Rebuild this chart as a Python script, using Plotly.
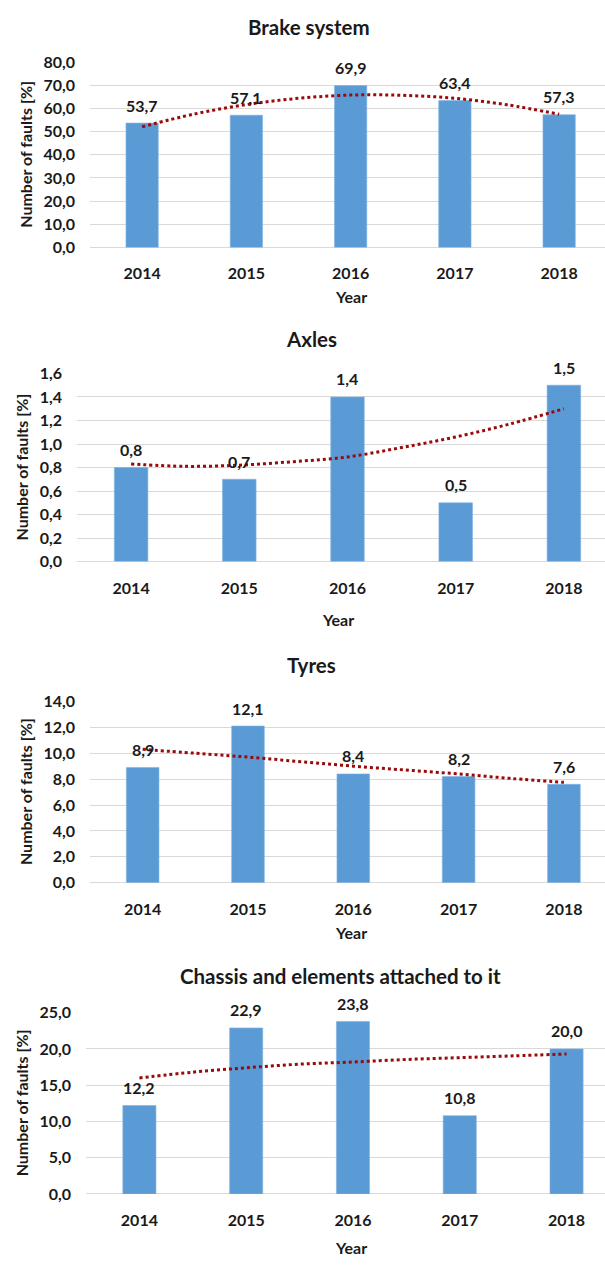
import plotly.graph_objects as go

YEARS = [2014, 2015, 2016, 2017, 2018]
TITLES = ["Brake system", "Axles", "Tyres", "Chassis and elements attached to it"]

BRAKE = [53.7, 57.1, 69.9, 63.4, 57.3]
AXLES = [0.8, 0.7, 1.4, 0.5, 1.5]
TYRES = [8.9, 12.1, 8.4, 8.2, 7.6]
CHASSIS = [12.2, 22.9, 23.8, 10.8, 20.0]

# trend lines (at each year and half-year)
TREND_X = [2014, 2014.5, 2015, 2015.5, 2016, 2016.5, 2017, 2017.5, 2018]
BRAKE_TREND = [52.1, 57.6, 61.7, 64.4, 65.8, 65.7, 64.4, 61.6, 57.5]
AXLES_TREND = [0.83, 0.81, 0.82, 0.85, 0.89, 0.97, 1.06, 1.17, 1.30]
TYRES_TREND = [10.3, 10.0, 9.7, 9.35, 9.0, 8.7, 8.4, 8.05, 7.75]
CHASSIS_TREND = [16.0, 16.8, 17.4, 17.9, 18.2, 18.55, 18.8, 19.05, 19.3]

Y_MAX = [80, 1.6, 14, 25]
Y_DTICK = [10, 0.2, 2, 5]

W, H = 605, 1265
FONT = "Lato, 'Open Sans', sans-serif"
TXT = "#1a1a1a"
BAR = "#5B9BD5"
TREND = "#9B0A0A"
GRID = "#D9D9D9"

# panel geometry in pixels: (plot left, x-end range, plot top, plot bottom, title x, title y, year x, year y, ytitle x)
PANELS = [
    (90, 4.44, 53, 241, 309, 17, 351, 291, 26),
    (77, 4.38, 369, 560, 311, 334, 338, 619, 22),
    (90, 4.39, 702, 886, 311, 665, 351, 937, 25),
    (86, 4.36, 1018, 1202, 340, 981, 351, 1256, 21),
]

values = [BRAKE, AXLES, TYRES, CHASSIS]
trends = [BRAKE_TREND, AXLES_TREND, TYRES_TREND, CHASSIS_TREND]


def px(x):
    return x / W


def py(y):
    return 1 - y / H


fig = go.Figure()
annotations = []
layout = {}

for i, (vals, tr) in enumerate(zip(values, trends)):
    left, xend, top, bot, tx, ty, yx, yy, atx = PANELS[i]
    xa = "x" if i == 0 else f"x{i+1}"
    ya = "y" if i == 0 else f"y{i+1}"
    xkey = "xaxis" if i == 0 else f"xaxis{i+1}"
    ykey = "yaxis" if i == 0 else f"yaxis{i+1}"

    fig.add_trace(go.Bar(
        x=YEARS, y=vals, width=0.31, xaxis=xa, yaxis=ya,
        marker=dict(color=BAR, line=dict(color="#7FB2E0", width=0.6)),
        showlegend=False, hoverinfo="skip",
    ))
    fig.add_trace(go.Scatter(
        x=TREND_X, y=tr, xaxis=xa, yaxis=ya, mode="lines",
        line=dict(color=TREND, width=3, dash="dot", shape="spline"),
        showlegend=False, hoverinfo="skip",
    ))

    layout[xkey] = dict(
        domain=[px(left), 1.0],
        range=[2013.5, 2013.5 + xend + 0.5],
        tickmode="array", tickvals=YEARS, ticktext=[str(y) for y in YEARS],
        showgrid=False, zeroline=False, showline=False,
        tickfont=dict(family=FONT, size=16, color=TXT, weight="bold"),
        ticks="", ticklabelstandoff=15,
        anchor=ya, fixedrange=True,
    )
    layout[ykey] = dict(
        domain=[py(bot), py(top)],
        range=[0, Y_MAX[i]], dtick=Y_DTICK[i], tick0=0,
        tickformat=".1f",
        showgrid=True, gridcolor=GRID, gridwidth=1,
        zeroline=True, zerolinecolor=GRID, zerolinewidth=1,
        showline=False, ticks="",
        tickfont=dict(family=FONT, size=16, color=TXT, weight="bold"),
        ticklabelstandoff=14,
        anchor=xa, fixedrange=True,
    )

    # data labels
    for yr, v in zip(YEARS, vals):
        annotations.append(dict(
            x=yr, y=v, xref=xa, yref=ya, text=f"{v:.1f}".replace(".", ","),
            showarrow=False, yanchor="middle", yshift=18,
            font=dict(family=FONT, size=16, color=TXT, weight="bold"),
        ))
    # panel title
    annotations.append(dict(
        x=px(tx), y=py(ty), xref="paper", yref="paper", text=TITLES[i],
        showarrow=False, xanchor="center", yanchor="middle",
        font=dict(family=FONT, size=20.5, color=TXT, weight="bold"),
    ))
    # x title
    annotations.append(dict(
        x=px(yx), y=py(yy), xref="paper", yref="paper", text="Year",
        showarrow=False, xanchor="center", yanchor="middle",
        font=dict(family=FONT, size=16, color=TXT, weight="bold"),
    ))
    # y title
    annotations.append(dict(
        x=px(atx), y=py((top + bot) / 2), xref="paper", yref="paper",
        text="Number of faults [%]", textangle=-90,
        showarrow=False, xanchor="center", yanchor="middle",
        font=dict(family=FONT, size=16, color=TXT, weight="bold"),
    ))

fig.update_layout(
    width=W, height=H,
    margin=dict(l=0, r=0, t=0, b=0),
    paper_bgcolor="white", plot_bgcolor="white",
    separators=",.",
    annotations=annotations,
    **layout,
)

fig.write_html(
    "out.html",
    config={"displayModeBar": False},
    post_script="document.body.style.margin='0';document.body.style.overflow='hidden';",
)
